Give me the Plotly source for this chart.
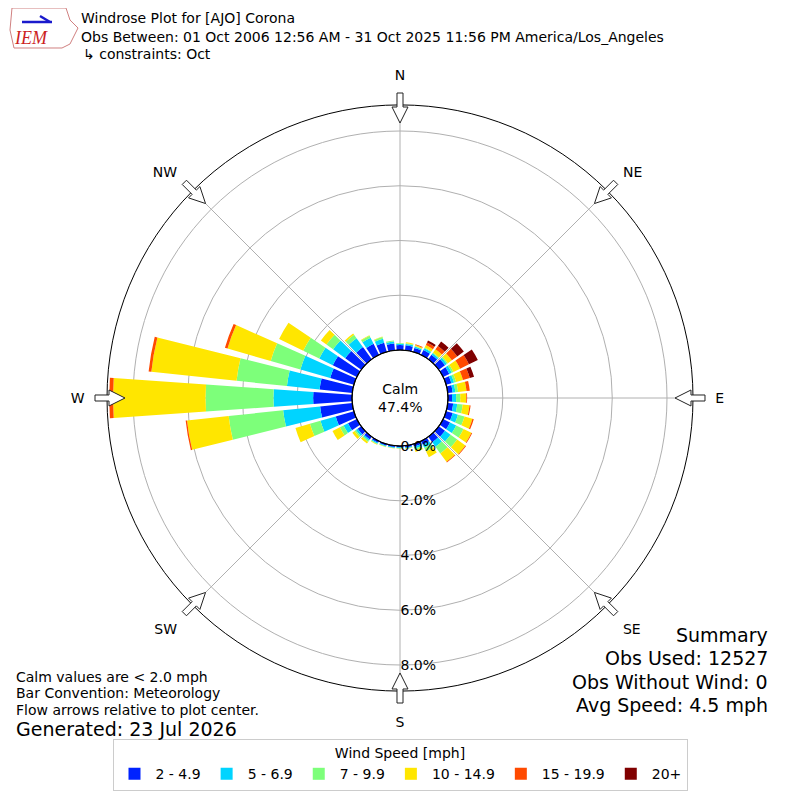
import math
import plotly.graph_objects as go

# ---------------- data ----------------
directions = [0, 10, 20, 30, 40, 50, 60, 70, 80, 90, 100, 110, 120, 130, 140, 150, 160, 170,
              180, 190, 200, 210, 220, 230, 240, 250, 260, 270, 280, 290, 300, 310, 320, 330, 340, 350]
speed_bins = ["2 - 4.9", "5 - 6.9", "7 - 9.9", "10 - 14.9", "15 - 19.9", "20+"]
bin_colors = ["#0022ff", "#00d4ff", "#7dff7a", "#ffe600", "#ff4a00", "#800000"]

pct_2_5 = [0.18, 0.18, 0.15, 0.20, 0.20, 0.28, 0.25, 0.20, 0.18, 0.15, 0.20, 0.25, 0.28, 0.28, 0.25, 0.15, 0.10, 0.06,
           0.05, 0.05, 0.06, 0.07, 0.12, 0.16, 0.36, 0.69, 1.18, 1.42, 1.20, 0.90, 0.98, 0.72, 0.55, 0.45, 0.35, 0.25]
pct_5_7 = [0.04, 0.05, 0.05, 0.07, 0.07, 0.08, 0.10, 0.10, 0.10, 0.15, 0.15, 0.20, 0.25, 0.25, 0.20, 0.12, 0.07, 0.03,
           0.03, 0.03, 0.03, 0.04, 0.06, 0.08, 0.18, 0.58, 1.36, 1.45, 1.20, 1.13, 0.55, 0.55, 0.40, 0.25, 0.15, 0.07]
pct_7_10 = [0.03, 0.03, 0.02, 0.03, 0.03, 0.05, 0.07, 0.08, 0.10, 0.15, 0.20, 0.25, 0.30, 0.30, 0.30, 0.15, 0.06, 0.02,
            0.01, 0.01, 0.02, 0.02, 0.05, 0.06, 0.15, 0.40, 2.00, 2.48, 1.85, 1.13, 0.65, 0.30, 0.15, 0.08, 0.06, 0.04]
pct_10_15 = [0.00, 0.03, 0.04, 0.10, 0.15, 0.18, 0.27, 0.26, 0.31, 0.22, 0.25, 0.30, 0.32, 0.37, 0.38, 0.23, 0.07, 0.01,
             0.01, 0.01, 0.01, 0.02, 0.07, 0.10, 0.30, 0.55, 1.53, 3.38, 3.13, 1.64, 0.98, 0.25, 0.06, 0.02, 0.02, 0.00]
pct_15_20 = [0.00, 0.00, 0.03, 0.10, 0.15, 0.24, 0.36, 0.26, 0.12, 0.03, 0.04, 0.05, 0.03, 0.03, 0.03, 0.00, 0.00, 0.00,
             0.00, 0.00, 0.00, 0.00, 0.00, 0.00, 0.00, 0.00, 0.05, 0.14, 0.10, 0.10, 0.00, 0.00, 0.00, 0.00, 0.00, 0.00]
pct_20p = [0.00, 0.00, 0.00, 0.08, 0.20, 0.30, 0.36, 0.16, 0.00, 0.00, 0.00, 0.00, 0.00, 0.00, 0.00, 0.00, 0.00, 0.00,
           0.00, 0.00, 0.00, 0.00, 0.00, 0.00, 0.00, 0.00, 0.00, 0.00, 0.00, 0.00, 0.00, 0.00, 0.00, 0.00, 0.00, 0.00]
series = [pct_2_5, pct_5_7, pct_7_10, pct_10_15, pct_15_20, pct_20p]

radial_ticks = [0, 2, 4, 6, 8]
compass_vals = [0, 45, 90, 135, 180, 225, 270, 315]
compass_text = ["N", "NE", "E", "SE", "S", "SW", "W", "NW"]
calm_pct = 47.4

# ---------------- layout geometry ----------------
# the page body has an 8px margin, so the figure is 784px and offset by 8px
OFF = 8.0
W = H = 784
CX, CY, R = 400.0, 398.0, 293.0   # in screenshot pixels
HOLE_PX = 48.0
FONT = "DejaVu Sans"

def px(x):
    return (x - OFF) / W

def py(y):
    return 1 - (y - OFF) / H

fig = go.Figure()
for name, vals, col in zip(speed_bins, series, bin_colors):
    fig.add_trace(go.Barpolar(
        r=vals, theta=directions, name=name, width=8,
        marker=dict(color=col, line=dict(width=0)),
        hoverinfo="name+r+theta",
    ))

fig.update_layout(
    width=W, height=H,
    margin=dict(l=0, r=0, t=0, b=0),
    paper_bgcolor="white",
    font=dict(family=FONT, size=14, color="black"),
    polar=dict(
        domain=dict(x=[px(CX - R), px(CX + R)], y=[py(CY + R), py(CY - R)]),
        hole=HOLE_PX / R,
        bgcolor="white",
        barmode="stack",
        radialaxis=dict(
            range=[0, 8.95], tickvals=radial_ticks,
            ticktext=[f"{v:.1f}%" for v in radial_ticks],
            angle=-90, tickangle=-90, side="counterclockwise",
            showline=False, ticks="", gridcolor="#b0b0b0", gridwidth=1,
            layer="above traces", tickfont=dict(size=14),
        ),
        angularaxis=dict(
            direction="clockwise", rotation=90,
            tickvals=compass_vals, ticktext=compass_text,
            ticks="outside", ticklen=19, tickcolor="rgba(0,0,0,0)",
            showline=True, linecolor="black", linewidth=1,
            gridcolor="#b0b0b0", gridwidth=1, layer="above traces",
            tickfont=dict(size=14),
        ),
    ),
    legend=dict(
        orientation="h", x=px(400), xanchor="center", y=py(791), yanchor="bottom",
        bgcolor="white", bordercolor="#cccccc", borderwidth=1,
        title=dict(text="Wind Speed [mph]", side="top center", font=dict(size=14)),
        font=dict(size=14), traceorder="normal", itemwidth=32,
    ),
    showlegend=True,
)

shapes = []
# calm circle
shapes.append(dict(type="circle", xref="paper", yref="paper",
                   x0=px(CX - HOLE_PX), x1=px(CX + HOLE_PX),
                   y0=py(CY + HOLE_PX), y1=py(CY - HOLE_PX),
                   line=dict(color="black", width=1.2), fillcolor="rgba(0,0,0,0)"))

# flow arrows at the compass points
for d in compass_vals:
    a = math.radians(d)
    ux, uy = math.sin(a), -math.cos(a)
    vx, vy = math.cos(a), math.sin(a)
    def pt(r, w):
        return (CX + ux * r + vx * w, CY + uy * r + vy * w)
    pts = [pt(R + 12, -3), pt(R - 2, -3), pt(R - 2, -8), pt(R - 18, 0),
           pt(R - 2, 8), pt(R - 2, 3), pt(R + 12, 3)]
    path = "M " + " L ".join(f"{px(x):.5f},{py(y):.5f}" for x, y in pts) + " Z"
    shapes.append(dict(type="path", xref="paper", yref="paper", path=path,
                       fillcolor="white", line=dict(color="#222222", width=1)))

# simple logo outline (decorative)
logo = [(12, 8), (66, 8), (70, 20), (78, 28), (70, 44), (62, 48), (14, 48), (10, 30)]
shapes.append(dict(type="path", xref="paper", yref="paper",
                   path="M " + " L ".join(f"{px(x):.5f},{py(y):.5f}" for x, y in logo) + " Z",
                   line=dict(color="#d08080", width=1), fillcolor="rgba(0,0,0,0)"))
shapes.append(dict(type="line", xref="paper", yref="paper", x0=px(22), x1=px(52), y0=py(22), y1=py(22),
                   line=dict(color="#1a1acc", width=2.5)))
shapes.append(dict(type="line", xref="paper", yref="paper", x0=px(40), x1=px(50), y0=py(16), y1=py(22),
                   line=dict(color="#1a1acc", width=2.5)))
fig.update_layout(shapes=shapes)

ann = []
ann.append(dict(x=px(CX), y=py(CY), xref="paper", yref="paper", showarrow=False,
                text=f"Calm<br>{calm_pct:.1f}%", font=dict(size=14), align="center"))
# header
ann.append(dict(x=px(79), y=py(18), xref="paper", yref="paper", showarrow=False, xanchor="left", yanchor="middle",
                text="Windrose Plot for [AJO] Corona", font=dict(size=14)))
ann.append(dict(x=px(79), y=py(37), xref="paper", yref="paper", showarrow=False, xanchor="left", yanchor="middle",
                text="Obs Between: 01 Oct 2006 12:56 AM - 31 Oct 2025 11:56 PM America/Los_Angeles", font=dict(size=14)))
ann.append(dict(x=px(81), y=py(54), xref="paper", yref="paper", showarrow=False, xanchor="left", yanchor="middle",
                text="↳ constraints: Oct", font=dict(size=14)))
# logo text
ann.append(dict(x=px(31), y=py(38), xref="paper", yref="paper", showarrow=False, xanchor="center", yanchor="middle",
                text="<i>IEM</i>", font=dict(size=18, family="Liberation Serif", color="#cc1f1f")))
# bottom left
for yy, txt in [(677, "Calm values are < 2.0 mph"), (693, "Bar Convention: Meteorology"),
                (710, "Flow arrows relative to plot center.")]:
    ann.append(dict(x=px(14), y=py(yy), xref="paper", yref="paper", showarrow=False, xanchor="left",
                    yanchor="middle", text=txt, font=dict(size=14)))
ann.append(dict(x=px(14), y=py(729), xref="paper", yref="paper", showarrow=False, xanchor="left",
                yanchor="middle", text="Generated: 23 Jul 2026", font=dict(size=19)))
# summary
for yy, txt in [(635, "Summary"), (658, "Obs Used: 12527"), (682, "Obs Without Wind: 0"),
                (705, "Avg Speed: 4.5 mph")]:
    ann.append(dict(x=px(770), y=py(yy), xref="paper", yref="paper", showarrow=False, xanchor="right",
                    yanchor="middle", text=txt, font=dict(size=19)))
fig.update_layout(annotations=ann)

fig.write_html("out.html")
